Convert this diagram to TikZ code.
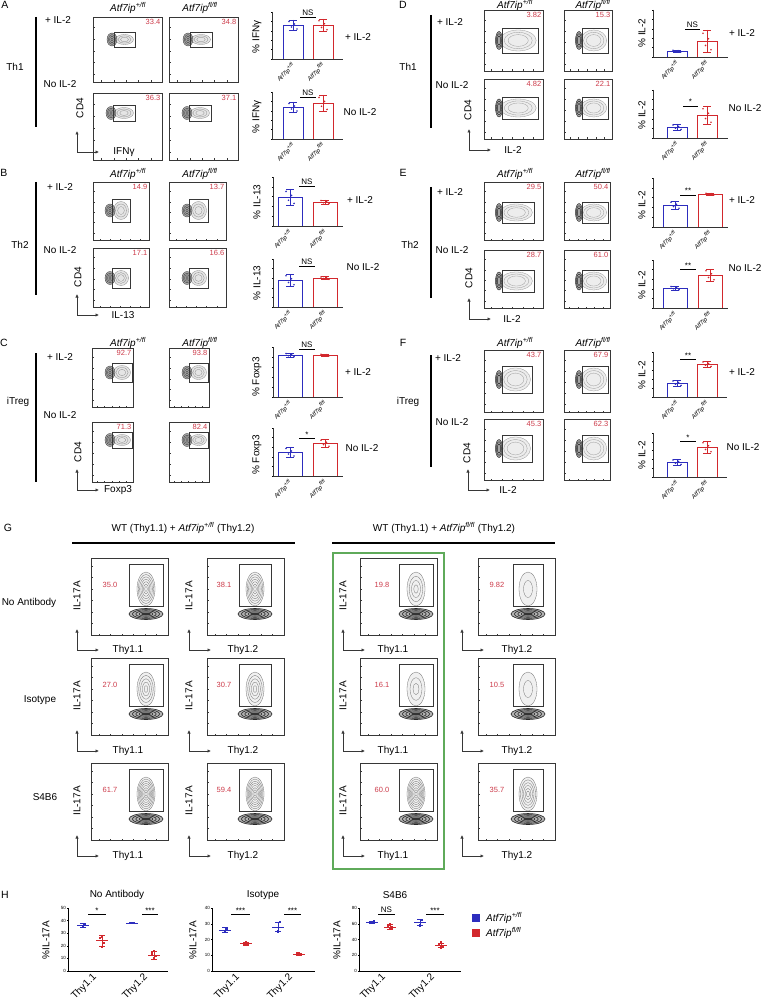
\documentclass[tikz,border=0pt]{standalone}
\usepackage{fontspec}
\setmainfont{Liberation Sans}
\usetikzlibrary{arrows.meta}
\definecolor{wtblue}{RGB}{45,45,190}
\definecolor{kored}{RGB}{210,40,45}
\definecolor{numred}{RGB}{205,60,75}
\definecolor{gbox}{RGB}{95,170,90}
\definecolor{fgray}{RGB}{55,55,55}
\tikzset{
  lab/.style={font=\fontsize{10}{12}\selectfont, inner sep=0pt},
  panel/.style={font=\fontsize{10.5}{12}\selectfont, inner sep=0pt},
  hdr/.style={font=\fontsize{10}{12}\selectfont\itshape, inner sep=0pt},
  num/.style={font=\fontsize{7.5}{9}\selectfont, text=numred, inner sep=0pt},
  ticklab/.style={font=\fontsize{6}{7}\selectfont\itshape, inner sep=0pt},
  tnum/.style={font=\fontsize{4.5}{5}\selectfont, inner sep=0pt},
  sig/.style={font=\fontsize{8}{9}\selectfont, inner sep=0.5pt},
  fbx/.style={draw=fgray, line width=0.6pt},
  gatebox/.style={draw=fgray, line width=0.6pt},
  contour/.style={line width=0.3pt},
  axarrow/.style={-{Latex[length=3.5pt,width=3.5pt]}, line width=0.8pt, draw=fgray},
  bigbar/.style={line width=1.7pt},
}
% flow box: name x1 y1 x2 y2 number
\newcommand{\facs}[6]{%
  \draw[fbx] (#2,#3) rectangle (#4,#5);
  \foreach \t in {0.12,0.3,0.48,0.66,0.84}{%
    \draw[line width=0.3pt,fgray] ({#2+\t*(#4-#2)},#5) -- ++(0,-1.5);
    \draw[line width=0.3pt,fgray] (#2,{#5-\t*(#5-#3)}) -- ++(1.5,0);
  }
  \node[num,anchor=north east] (#1) at ({#4-1.5},{#3+2}) {#6};
}
% A-C style gate
\newcommand{\gateH}[4]{%
  \pgfmathsetmacro\gcx{(#1+#3)/2}%
  \pgfmathsetmacro\gcy{(#2+#4)/2}%
  \pgfmathsetmacro\grx{(#3-#1)/2-1.5}%
  \pgfmathsetmacro\gry{(#4-#2)/2-2.5}%
  \fill[black!10] (\gcx,\gcy) ellipse [x radius=\grx*1pt, y radius=\gry*1pt];
  \foreach \s in {1,0.72,0.45}{\draw[contour,black!45] (\gcx,\gcy) ellipse [x radius=\s*\grx*1pt, y radius=\s*\gry*1pt];}
  \fill[black!35] ({#1-2},\gcy) ellipse [x radius=5pt, y radius=6.5pt];
  \foreach \s in {1,0.75,0.5,0.25}{\draw[contour,black!80] ({#1-2},\gcy) ellipse [x radius=\s*5pt, y radius=\s*6.5pt];}
  \draw[gatebox] (#1,#2) rectangle (#3,#4);
}
% D-F style gate
\newcommand{\gateV}[4]{%
  \pgfmathsetmacro\gcx{#1+0.45*(#3-#1)}%
  \pgfmathsetmacro\gcy{(#2+#4)/2}%
  \pgfmathsetmacro\grx{(#3-#1)/2}%
  \pgfmathsetmacro\gry{(#4-#2)/2-2}%
  \fill[black!7] (\gcx,\gcy) ellipse [x radius=\grx*1pt, y radius=\gry*1pt];
  \foreach \s in {1,0.78,0.56}{\draw[contour,black!40] (\gcx,\gcy) ellipse [x radius=\s*\grx*1pt, y radius=\s*\gry*1pt];}
  \fill[black!35] ({#1-3},\gcy) ellipse [x radius=3.5pt, y radius=9pt];
  \foreach \s in {1,0.75,0.5}{\draw[contour,black!85,line width=0.45pt] ({#1-3},\gcy) ellipse [x radius=\s*3.5pt, y radius=\s*9pt];}
  \draw[gatebox] (#1,#2) rectangle (#3,#4);
}
% G style gate: gx1 gy1 gx2 gy2 rings
\newcommand{\gateG}[5]{%
  \pgfmathsetmacro\gcx{(#1+#3)/2}%
  \pgfmathsetmacro\gcy{(#2+#4)/2+4}%
  \pgfmathsetmacro\gry{(#4-#2)/2-4}%
  \fill[black!6] (\gcx,\gcy) ellipse [x radius=9pt, y radius=\gry*1pt];
  \foreach \i in {1,...,#5}{\pgfmathsetmacro\s{\i/#5}\draw[contour,black!55] (\gcx,\gcy) ellipse [x radius=\s*9pt, y radius=\s*\gry*1pt];}
  \fill[black!30] (\gcx,{#4+8}) ellipse [x radius=17pt, y radius=5.5pt];
  \foreach \s in {1,0.8,0.6,0.4}{\draw[black!85,line width=0.6pt] (\gcx,{#4+8}) ellipse [x radius=\s*17pt, y radius=\s*5.5pt];}
  \fill[black!80] (\gcx,{#4+8}) ellipse [x radius=5pt, y radius=1.5pt];
  \draw[gatebox] (#1,#2) rectangle (#3,#4);
}
% G box: name x1 y1 number numdx
\newcommand{\gbox}[5]{%
  \draw[fbx] (#2,#3) rectangle ({#2+77},{#3+77});
  \foreach \t in {0.1,0.25,0.4,0.55,0.7,0.85}{%
    \draw[line width=0.3pt,fgray] ({#2+\t*77},{#3+77}) -- ++(0,-1.5);
    \draw[line width=0.3pt,fgray] (#2,{#3+\t*77}) -- ++(1.5,0);
  }
  \node[num] (#1) at ({#2+#5},{#3+27}) {#4};
}
% axis corner: name x y xlabel dx
\newcommand{\cornerax}[5]{%
  \coordinate (#1) at (#2,#3);
  \draw[axarrow] (#1) -- ++(0,-21);
  \draw[axarrow] (#1) -- ++(22,0);
  \node[lab] (#1l) at ({#2+#5},#3) {#4};
}
% chart axes: ax top base end
\newcommand{\chartaxes}[4]{%
  \draw[line width=0.6pt,black!80] (#1,#2) -- (#1,#3) -- (#4,#3);
  \foreach \i in {0,...,5}{\draw[line width=0.4pt] (#1,{#3-\i*(#3-#2)/5}) -- ++(-1.5,0);}
}
% bars: bc rc base hw btop berr rtop rerr
\newcommand{\bars}[8]{%
  \draw[wtblue,line width=0.8pt] ({#1-#4},#3) -- ({#1-#4},#5) -- ({#1+#4},#5) -- ({#1+#4},#3);
  \draw[kored,line width=0.8pt] ({#2-#4},#3) -- ({#2-#4},#7) -- ({#2+#4},#7) -- ({#2+#4},#3);
  \draw[wtblue,line width=0.6pt] (#1,{#5-#6}) -- (#1,{#5+#6}) ({#1-4},{#5-#6}) -- ({#1+4},{#5-#6}) ({#1-4},{#5+#6}) -- ({#1+4},{#5+#6});
  \draw[kored,line width=0.6pt] (#2,{#7-#8}) -- (#2,{#7+#8}) ({#2-4},{#7-#8}) -- ({#2+4},{#7-#8}) ({#2-4},{#7+#8}) -- ({#2+4},{#7+#8});
  \foreach \dx/\f in {-4/-0.7,-1.5/0.4,1.5/-0.2,4/0.8}{%
    \fill[wtblue] ({#1+\dx},{#5+\f*#6}) circle [radius=0.9pt];
    \fill[kored] ({#2+\dx},{#7+\f*#8}) circle [radius=0.9pt];
  }
}
\newcommand{\sigbar}[4]{%
  \draw[line width=0.7pt] (#1,#3) -- (#2,#3);
  \node[sig,anchor=south] at ({(#1+#2)/2},{#3-0.3}) {#4};
}
\newcommand{\xtl}[3]{%
  \node[ticklab,rotate=45,anchor=east] at ({#1+1},{#3+5}) {Atf7ip\textsuperscript{+/fl}};
  \node[ticklab,rotate=45,anchor=east] at ({#2+1},{#3+5}) {Atf7ip\textsuperscript{fl/fl}};
}
% H axes: ax top base end max step
\newcommand{\hax}[6]{%
  \draw[line width=0.6pt] (#1,#2) -- (#1,#3) -- (#4,#3);
  \foreach \v in {0,#6,...,#5}{\pgfmathsetmacro\yy{#3-\v*(#3-#2)/#5}\draw[line width=0.4pt] (#1,\yy) -- ++(-1.5,0); \node[tnum,anchor=east] at ({#1-2},\yy) {\v};}
}
% H group: x base scale mean err color vals
\newcommand{\hgroup}[7]{%
  \pgfmathsetmacro\hmy{#2-#4*#3}%
  \pgfmathsetmacro\ylo{#2-(#4-#5)*#3}%
  \pgfmathsetmacro\yhi{#2-(#4+#5)*#3}%
  \foreach \v [count=\i] in {#7}{\pgfmathsetmacro\xx{#1+(mod(\i,3)-1)*2.2}\fill[#6] ({\xx-1.2},{#2-\v*#3-1.2}) rectangle ++(2.4,2.4);}
  \draw[#6,line width=0.6pt] ({#1-6},\hmy) -- ({#1+6},\hmy) (#1,\ylo) -- (#1,\yhi) ({#1-3},\ylo) -- ({#1+3},\ylo) ({#1-3},\yhi) -- ({#1+3},\yhi);
}
\begin{document}
\begin{tikzpicture}[x=1pt,y=-1pt]
\useasboundingbox (0,0) rectangle (763,1008);
\fill[white] (0,0) rectangle (763,1008);

%================ Panel A
\node[panel] (pA) at (5,5) {A};
\node[hdr] (hA1) at (128,8) {Atf7ip\textsuperscript{+/fl}};
\node[hdr] (hA2) at (200,8) {Atf7ip\textsuperscript{fl/fl}};
\draw[bigbar] (36,17) -- (36,127);
\node[lab] (a1) at (58,20) {+ IL-2};
\node[lab] (a2) at (60,84) {No IL-2};
\node[lab] (a3) at (15,67) {Th1};
\facs{nA11}{93}{17}{162}{82}{33.4}\gateH{114}{32}{135}{47}
\facs{nA12}{169}{17}{238}{82}{34.8}\gateH{190}{32}{212}{47}
\facs{nA21}{93}{93}{162}{160}{36.3}\gateH{113}{105}{135}{121}
\facs{nA22}{169}{93}{238}{160}{37.1}\gateH{189}{105}{211}{121}
\node[lab,rotate=90] (cdA) at (80,108) {CD4};
\cornerax{cA}{77}{152}{IFNγ}{47}
\chartaxes{272}{12}{59}{343}\bars{293}{323}{59}{10}{25}{5}{25}{6}
\sigbar{300}{316}{17}{NS}\xtl{293}{323}{59}
\node[lab,rotate=90] (yA1) at (257,37) {\% IFNγ};
\node[lab] (rA1) at (358,37) {+ IL-2};
\chartaxes{272}{92}{139}{343}\bars{293}{323}{139}{10}{107}{5}{103}{8}
\sigbar{300}{316}{97}{NS}\xtl{293}{323}{139}
\node[lab,rotate=90] (yA2) at (257,117) {\% IFNγ};
\node[lab] (rA2) at (360,112) {No IL-2};

%================ Panel B
\node[panel] (pB) at (4,173) {B};
\node[hdr] (hB1) at (128,174) {Atf7ip\textsuperscript{+/fl}};
\node[hdr] (hB2) at (200,174) {Atf7ip\textsuperscript{fl/fl}};
\draw[bigbar] (36,182) -- (36,295);
\node[lab] (b1) at (60,187) {+ IL-2};
\node[lab] (b2) at (60,250) {No IL-2};
\node[lab] (b3) at (20,245) {Th2};
\facs{nB11}{93}{182}{149}{240}{14.9}\gateH{112}{199}{130}{222}
\facs{nB12}{169}{182}{226}{240}{13.7}\gateH{189}{199}{208}{222}
\facs{nB21}{93}{248}{149}{307}{17.1}\gateH{112}{268}{130}{288}
\facs{nB22}{169}{248}{226}{307}{16.6}\gateH{189}{268}{208}{288}
\node[lab,rotate=90] (cdB) at (78,277) {CD4};
\cornerax{cB}{77}{315}{IL-13}{46}
\chartaxes{273}{177}{226}{343}\bars{290}{325}{226}{12}{197}{8}{202}{2}
\sigbar{299}{315}{186}{NS}\xtl{290}{325}{226}
\node[lab,rotate=90] (yB1) at (257,202) {\% IL-13};
\node[lab] (rB1) at (360,200) {+ IL-2};
\chartaxes{273}{259}{307}{343}\bars{290}{325}{307}{12}{280}{6}{278}{1.5}
\sigbar{299}{315}{266}{NS}\xtl{290}{325}{307}
\node[lab,rotate=90] (yB2) at (257,283) {\% IL-13};
\node[lab] (rB2) at (363,267) {No IL-2};

%================ Panel C
\node[panel] (pC) at (4,343) {C};
\node[hdr] (hC1) at (128,343) {Atf7ip\textsuperscript{+/fl}};
\node[hdr] (hC2) at (200,343) {Atf7ip\textsuperscript{fl/fl}};
\draw[bigbar] (36,353) -- (36,482);
\node[lab] (c1) at (60,357) {+ IL-2};
\node[lab] (c2) at (60,415) {No IL-2};
\node[lab] (c3) at (18,402) {iTreg};
\facs{nC11}{92}{348}{133}{407}{92.7}\gateH{112}{363}{132}{382}
\facs{nC12}{169}{348}{209}{407}{93.8}\gateH{189}{363}{208}{382}
\facs{nC21}{92}{422}{133}{482}{71.3}\gateH{112}{432}{132}{448}
\facs{nC22}{169}{422}{209}{482}{82.4}\gateH{189}{432}{208}{448}
\node[lab,rotate=90] (cdC) at (78,452) {CD4};
\cornerax{cC}{77}{490}{Foxp3}{41}
\chartaxes{273}{347}{397}{343}\bars{290}{325}{397}{12}{355}{2}{355}{1}
\sigbar{299}{315}{349}{NS}\xtl{290}{325}{397}
\node[lab,rotate=90] (yC1) at (257,377) {\% Foxp3};
\node[lab] (rC1) at (358,372) {+ IL-2};
\chartaxes{273}{428}{476}{343}\bars{290}{325}{476}{12}{452}{5}{443}{4}
\sigbar{299}{315}{438}{*}\xtl{290}{325}{476}
\node[lab,rotate=90] (yC2) at (257,455) {\% Foxp3};
\node[lab] (rC2) at (362,448) {No IL-2};

%================ Panel D
\node[panel] (pD) at (403,5) {D};
\node[hdr] (hD1) at (515,5) {Atf7ip\textsuperscript{+/fl}};
\node[hdr] (hD2) at (593,5) {Atf7ip\textsuperscript{fl/fl}};
\draw[bigbar] (431,15) -- (431,128);
\node[lab] (d1) at (450,22) {+ IL-2};
\node[lab] (d2) at (452,85) {No IL-2};
\node[lab] (d3) at (408,67) {Th1};
\facs{nD11}{484}{10}{543}{71}{3.82}\gateV{502}{28}{538}{53}
\facs{nD12}{564}{10}{612}{71}{15.3}\gateV{582}{28}{608}{53}
\facs{nD21}{484}{79}{543}{139}{4.82}\gateV{502}{97}{538}{119}
\facs{nD22}{564}{79}{612}{139}{22.1}\gateV{582}{97}{608}{119}
\node[lab,rotate=90] (cdD) at (468,110) {CD4};
\cornerax{cD}{469}{150}{IL-2}{44}
\chartaxes{653}{10}{57}{728}\bars{677}{707}{57}{10}{51}{1}{41}{11}
\sigbar{685}{700}{29}{NS}\xtl{677}{707}{57}
\node[lab,rotate=90] (yD1) at (642,33) {\% IL-2};
\node[lab] (rD1) at (742,33) {+ IL-2};
\chartaxes{653}{90}{138}{728}\bars{677}{707}{138}{10}{127}{3}{115}{9}
\sigbar{683}{698}{106}{*}\xtl{677}{707}{138}
\node[lab,rotate=90] (yD2) at (642,115) {\% IL-2};
\node[lab] (rD2) at (745,108) {No IL-2};

%================ Panel E
\node[panel] (pE) at (403,173) {E};
\node[hdr] (hE1) at (515,174) {Atf7ip\textsuperscript{+/fl}};
\node[hdr] (hE2) at (593,174) {Atf7ip\textsuperscript{fl/fl}};
\draw[bigbar] (431,187) -- (431,298);
\node[lab] (e1) at (450,192) {+ IL-2};
\node[lab] (e2) at (452,250) {No IL-2};
\node[lab] (e3) at (410,245) {Th2};
\facs{nE11}{484}{182}{543}{240}{29.5}\gateV{502}{202}{534}{223}
\facs{nE12}{564}{182}{610}{240}{50.4}\gateV{582}{202}{608}{223}
\facs{nE21}{484}{250}{543}{308}{28.7}\gateV{502}{270}{534}{292}
\facs{nE22}{564}{250}{610}{308}{61.0}\gateV{582}{270}{608}{292}
\node[lab,rotate=90] (cdE) at (469,278) {CD4};
\cornerax{cE}{469}{319}{IL-2}{43}
\chartaxes{653}{178}{227}{728}\bars{675}{710}{227}{12}{205}{4}{194}{1}
\sigbar{680}{696}{195}{**}\xtl{675}{710}{227}
\node[lab,rotate=90] (yE1) at (642,205) {\% IL-2};
\node[lab] (rE1) at (742,200) {+ IL-2};
\chartaxes{653}{260}{308}{728}\bars{675}{710}{308}{12}{288}{2}{275}{6}
\sigbar{680}{696}{269}{**}\xtl{675}{710}{308}
\node[lab,rotate=90] (yE2) at (642,285) {\% IL-2};
\node[lab] (rE2) at (745,268) {No IL-2};

%================ Panel F
\node[panel] (pF) at (403,343) {F};
\node[hdr] (hF1) at (515,343) {Atf7ip\textsuperscript{+/fl}};
\node[hdr] (hF2) at (593,343) {Atf7ip\textsuperscript{fl/fl}};
\draw[bigbar] (431,355) -- (431,467);
\node[lab] (f1) at (448,358) {+ IL-2};
\node[lab] (f2) at (452,422) {No IL-2};
\node[lab] (f3) at (408,402) {iTreg};
\facs{nF11}{484}{350}{543}{412}{43.7}\gateV{502}{366}{532}{393}
\facs{nF12}{564}{350}{610}{412}{67.9}\gateV{582}{366}{608}{393}
\facs{nF21}{484}{419}{543}{480}{45.3}\gateV{502}{435}{532}{462}
\facs{nF22}{564}{419}{610}{480}{62.3}\gateV{582}{435}{608}{462}
\node[lab,rotate=90] (cdF) at (467,453) {CD4};
\cornerax{cF}{468}{490}{IL-2}{40}
\chartaxes{653}{352}{397}{727}\bars{677}{707}{397}{10}{383}{3}{364}{3}
\sigbar{680}{696}{359}{**}\xtl{677}{707}{397}
\node[lab,rotate=90] (yF1) at (642,375) {\% IL-2};
\node[lab] (rF1) at (742,372) {+ IL-2};
\chartaxes{653}{433}{477}{727}\bars{677}{707}{477}{10}{462}{3}{447}{6}
\sigbar{680}{696}{441}{*}\xtl{677}{707}{477}
\node[lab,rotate=90] (yF2) at (642,455) {\% IL-2};
\node[lab] (rF2) at (743,447) {No IL-2};

%================ Panel G
\node[panel] (pG) at (8,528) {G};
\node[lab] (hG1) at (183,528) {WT (Thy1.1) + \textit{Atf7ip}\textsuperscript{\textit{+/fl}} (Thy1.2)};
\node[lab] (hG2) at (444,528) {WT (Thy1.1) + \textit{Atf7ip}\textsuperscript{\textit{fl/fl}} (Thy1.2)};
\draw[line width=1.3pt] (72,543) -- (295,543);
\draw[line width=1.3pt] (332,543) -- (555,543);
\draw[gbox,line width=2.2pt] (333,553) rectangle (444,869);
\node[lab] (gr1) at (29,603) {No Antibody};
\node[lab] (gr2) at (40,700) {Isotype};
\node[lab] (gr3) at (45,797) {S4B6};
% row 1 (y1=558)
\gbox{g11}{91}{558}{35.0}{19}\gateG{129}{564}{163}{606}{7}
\gbox{g12}{207}{558}{38.1}{17}\gateG{239}{564}{271}{606}{7}
\gbox{g13}{360}{558}{19.8}{22}\gateG{399}{564}{433}{606}{4}
\gbox{g14}{478}{558}{9.82}{19}\gateG{513}{564}{543}{606}{2}
% row 2 (y1=658)
\gbox{g21}{91}{658}{27.0}{19}\gateG{129}{664}{163}{706}{5}
\gbox{g22}{207}{658}{30.7}{17}\gateG{239}{664}{271}{706}{5}
\gbox{g23}{360}{658}{16.1}{22}\gateG{399}{664}{433}{706}{3}
\gbox{g24}{478}{658}{10.5}{19}\gateG{513}{664}{543}{706}{2}
% row 3 (y1=763)
\gbox{g31}{91}{763}{61.7}{19}\gateG{129}{769}{163}{811}{8}
\gbox{g32}{207}{763}{59.4}{17}\gateG{239}{769}{271}{811}{8}
\gbox{g33}{360}{763}{60.0}{22}\gateG{399}{769}{433}{811}{8}
\gbox{g34}{478}{763}{35.7}{19}\gateG{513}{769}{543}{811}{6}
% y labels
\foreach \yy/\r in {596/1,696/2,801/3}{%
  \node[lab,rotate=90] (il1\r) at (77,\yy) {IL-17A};
  \node[lab,rotate=90] (il2\r) at (189,\yy) {IL-17A};
  \node[lab,rotate=90] (il3\r) at (343,\yy) {IL-17A};
}
% axis corners
\foreach \yy/\r in {650/1,751/2,856/3}{%
  \cornerax{ga\r}{77}{\yy}{Thy1.1}{51}
  \cornerax{gb\r}{189}{\yy}{Thy1.2}{54}
  \cornerax{gc\r}{343}{\yy}{Thy1.1}{50}
  \cornerax{gd\r}{462}{\yy}{Thy1.2}{55}
}

%================ Panel H
\node[panel] (pH) at (5,895) {H};
\node[lab] (tH1) at (117,895) {No Antibody};
\node[lab] (tH2) at (263,895) {Isotype};
\node[lab] (tH3) at (395,895) {S4B6};
% H1
\hax{68}{908}{971}{168}{50}{10}
\node[lab,rotate=90] (yH1) at (46,940) {\%IL-17A};
\hgroup{83}{971}{1.26}{36}{1.5}{wtblue}{35,37}
\hgroup{102}{971}{1.26}{24}{4}{kored}{19,22,26,27}
\hgroup{132}{971}{1.26}{38}{0.5}{wtblue}{38,38}
\hgroup{154}{971}{1.26}{12.5}{3}{kored}{10,12,14,16}
\sigbar{88}{106}{914}{*}
\sigbar{142}{158}{914}{***}
\node[lab,rotate=45,anchor=east] (xH11) at (95,976) {Thy1.1};
\node[lab,rotate=45,anchor=east] (xH12) at (146,976) {Thy1.2};
% H2
\hax{212}{908}{971}{315}{40}{10}
\node[lab,rotate=90] (yH2) at (193,940) {\%IL-17A};
\hgroup{225}{971}{1.575}{26}{1.5}{wtblue}{25,27}
\hgroup{246}{971}{1.575}{17.3}{0.7}{kored}{16.5,17,17.5,18}
\hgroup{278}{971}{1.575}{28}{3}{wtblue}{25,31}
\hgroup{299}{971}{1.575}{10.6}{0.6}{kored}{10,10.5,11,11.5}
\sigbar{231}{250}{914}{***}
\sigbar{284}{301}{914}{***}
\node[lab,rotate=45,anchor=east] (xH21) at (238,976) {Thy1.1};
\node[lab,rotate=45,anchor=east] (xH22) at (291,976) {Thy1.2};
% H3
\hax{359}{908}{971}{461}{80}{20}
\node[lab,rotate=90] (yH3) at (337,940) {\%IL-17A};
\hgroup{372}{971}{0.7875}{62}{1.5}{wtblue}{61,63}
\hgroup{390}{971}{0.7875}{56}{3}{kored}{53,55,57,59}
\hgroup{420}{971}{0.7875}{62}{4}{wtblue}{58,65}
\hgroup{441}{971}{0.7875}{33}{2.5}{kored}{30,32,34,36}
\sigbar{378}{395}{914}{NS}
\sigbar{426}{444}{914}{***}
\node[lab,rotate=45,anchor=east] (xH31) at (384,976) {Thy1.1};
\node[lab,rotate=45,anchor=east] (xH32) at (433,976) {Thy1.2};
% legend
\fill[wtblue] (472,914) rectangle (480,922);
\fill[kored] (472,929) rectangle (480,937);
\node[hdr,anchor=west] (lg1) at (486,918) {Atf7ip\textsuperscript{+/fl}};
\node[hdr,anchor=west] (lg2) at (486,933) {Atf7ip\textsuperscript{fl/fl}};
\end{tikzpicture}
\end{document}
